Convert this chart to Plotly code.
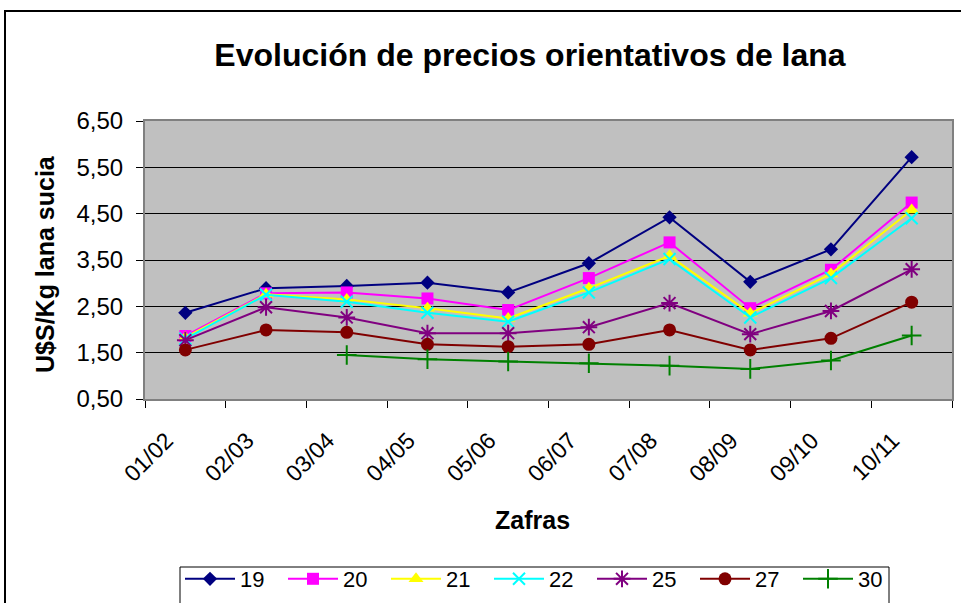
import plotly.graph_objects as go

zafras = ["01/02", "02/03", "03/04", "04/05", "05/06", "06/07", "07/08", "08/09", "09/10", "10/11"]

s19 = [2.36, 2.89, 2.94, 3.01, 2.80, 3.43, 4.42, 3.03, 3.73, 5.72]
s20 = [1.86, 2.78, 2.80, 2.67, 2.42, 3.11, 3.88, 2.46, 3.29, 4.74]
s21 = [1.83, 2.76, 2.65, 2.46, 2.24, 2.89, 3.59, 2.35, 3.20, 4.58]
s22 = [1.80, 2.75, 2.60, 2.36, 2.17, 2.80, 3.52, 2.26, 3.11, 4.40]
s25 = [1.77, 2.48, 2.26, 1.92, 1.92, 2.05, 2.57, 1.90, 2.40, 3.30]
s27 = [1.56, 1.99, 1.94, 1.68, 1.63, 1.68, 1.99, 1.56, 1.81, 2.59]
s30 = [None, None, 1.45, 1.36, 1.31, 1.27, 1.22, 1.15, 1.33, 1.87]

y_ticks = [0.5, 1.5, 2.5, 3.5, 4.5, 5.5, 6.5]

series = [
    ("19", s19, "#000080", "diamond", 11, 0),
    ("20", s20, "#FF00FF", "square", 12, 0),
    ("21", s21, "#FFFF00", "triangle-up", 13, 0),
    ("22", s22, "#00FFFF", "x-thin-open", 12, 2),
    ("25", s25, "#800080", "asterisk-open", 14, 2),
    ("27", s27, "#800000", "circle", 13, 0),
    ("30", s30, "#008000", "cross-thin-open", 14, 2),
]

FONT = "Liberation Sans, Arial, sans-serif"

fig = go.Figure()
for name, vals, color, sym, size, lw in series:
    mk = dict(symbol=sym, size=size, color=color)
    if lw:
        mk["line"] = dict(color=color, width=lw)
    else:
        mk["line"] = dict(width=0)
    fig.add_trace(go.Scatter(
        x=zafras, y=vals, name=name, mode="lines+markers",
        line=dict(color=color, width=2), marker=mk, connectgaps=False,
    ))

W, H = 961, 603
L, R, T, B = 145, 9, 121, 204
pw, ph = W - L - R, H - T - B

def px(x):
    return (x - L) / pw

def py(y):
    return (H - B - y) / ph

fig.update_layout(
    width=W, height=H,
    margin=dict(l=L, r=R, t=T, b=B, autoexpand=False),
    paper_bgcolor="white",
    plot_bgcolor="#C0C0C0",
    separators=",.",
    font=dict(family=FONT, color="black", size=22),
    title=dict(text="<b>Evolución de precios orientativos de lana</b>",
               x=530 / W, xref="container", xanchor="center",
               y=1 - 55 / H, yref="container", yanchor="middle",
               font=dict(size=32, family=FONT, color="black")),
    showlegend=True,
    legend=dict(orientation="h", x=px(180), y=py(558), xanchor="left", yanchor="top",
                bgcolor="rgba(0,0,0,0)", borderwidth=0,
                entrywidth=38, entrywidthmode="pixels", itemwidth=50,
                font=dict(size=22, family=FONT, color="black")),
    xaxis=dict(
        type="category", categoryorder="array", categoryarray=zafras,
        tickangle=-45, tickson="boundaries", ticks="outside", ticklen=7,
        tickcolor="black", tickwidth=1,
        showline=True, linecolor="#808080", linewidth=2, mirror=True,
        showgrid=False, tickfont=dict(size=23, family=FONT),
        ticklabelstandoff=17, ticklabelshift=-19,
        range=[-0.5, 9.5],
    ),
    yaxis=dict(
        range=[0.5, 6.5], tickvals=y_ticks, tickformat=".2f",
        ticks="outside", ticklen=7, tickcolor="black", tickwidth=1,
        showline=True, linecolor="#808080", linewidth=2, mirror=True,
        showgrid=True, gridcolor="black", gridwidth=1, zeroline=False,
        tickfont=dict(size=24, family=FONT), ticklabelstandoff=8,
    ),
    annotations=[
        dict(text="<b>Zafras</b>", x=px(532), y=py(520), xref="paper", yref="paper",
             xanchor="center", yanchor="middle", showarrow=False,
             font=dict(size=25, family=FONT, color="black")),
        dict(text="<b>U$S/Kg lana sucia</b>", x=px(45), y=py(264), xref="paper", yref="paper",
             xanchor="center", yanchor="middle", showarrow=False, textangle=-90,
             font=dict(size=25, family=FONT, color="black")),
    ],
    shapes=[
        dict(type="rect", xref="paper", yref="paper",
             x0=px(5), x1=px(1000), y0=py(660), y1=py(11),
             line=dict(color="black", width=2), fillcolor="rgba(0,0,0,0)", layer="below"),
        dict(type="rect", xref="paper", yref="paper",
             x0=px(180), x1=px(889), y0=py(640), y1=py(567),
             line=dict(color="black", width=1), fillcolor="white", layer="below"),
    ],
)

fig.write_html("out.html",
               config={"displayModeBar": False},
               post_script="document.body.style.margin='0';document.body.style.padding='0';window.dispatchEvent(new Event('resize'));")
